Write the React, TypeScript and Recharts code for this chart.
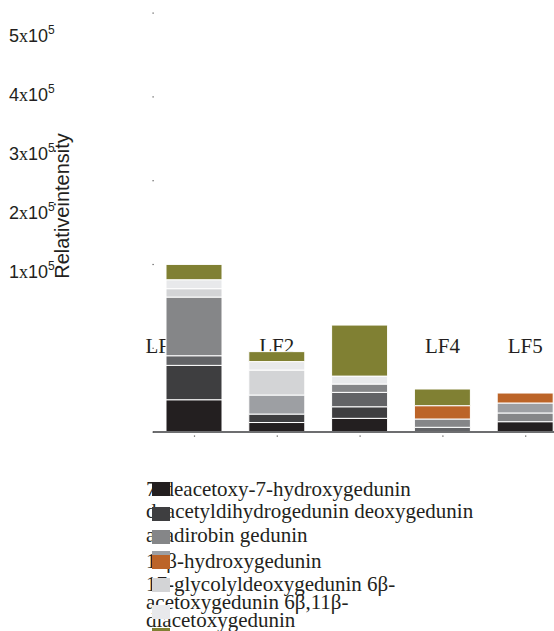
import React from "react";
import { BarChart, Bar, XAxis, YAxis } from "recharts";

const categories = ["LF1", "LF2", "LF3", "LF4", "LF5"];

const compounds = [
  "7-deacetoxy-7-hydroxygedunin",
  "deacetyldihydrogedunin",
  "deoxygedunin",
  "azadirobin",
  "gedunin",
  "11β-hydroxygedunin",
  "17-glycolyldeoxygedunin",
  "6β-acetoxygedunin",
  "6β,11β-diacetoxygedunin",
];

const colors = [
  "#231f20",
  "#3e3e40",
  "#626366",
  "#858688",
  "#9d9fa3",
  "#bc6428",
  "#d3d4d6",
  "#e8e9eb",
  "#808033",
];

// one array per compound, LF1..LF5
const deacetoxyHydroxy = [38500, 11300, 16300, 0, 12300];
const deacetyldihydro = [41000, 10100, 13800, 0, 0];
const deoxy = [11500, 0, 17200, 5600, 0];
const azadirobin = [70000, 0, 9900, 9900, 10400];
const gedunin = [0, 22700, 0, 0, 11900];
const hydroxy11 = [0, 0, 0, 15900, 11900];
const glycolyl = [10000, 29800, 0, 0, 0];
const acetoxy6 = [10700, 10100, 9500, 0, 0];
const diacetoxy = [18300, 11900, 60900, 19900, 0];

const series = [
  deacetoxyHydroxy,
  deacetyldihydro,
  deoxy,
  azadirobin,
  gedunin,
  hydroxy11,
  glycolyl,
  acetoxy6,
  diacetoxy,
];

const yTicks = [0, 100000, 200000, 300000, 400000, 500000];

// legend lines group the names the way the figure flows them
const legendGroups = [[0], [1, 2], [3, 4], [5], [6, 7, 8]];

const data = categories.map((name, i) => {
  const row: Record<string, string | number> = { name };
  series.forEach((s, k) => {
    row["s" + k] = s[i];
  });
  return row;
});

// lowest non-empty segment of each stack; its layer carries the category name
const bottomSeries = categories.map((_, i) => series.findIndex((s) => s[i] > 0));

const ink = "#231f20";

const YTick = (props: any) => {
  const { x, y, payload } = props;
  const m = payload.value / 100000;
  const baseline = 42 + (5 - m) * 59;
  return (
    <g>
      <rect x={x - 0.5} y={y - 0.5} width={1.2} height={1.2} fill="#555" />
      {m > 0 && (
        <text x={9} y={baseline} fontFamily="'Liberation Sans', Arial" fontSize={18} fill={ink}>
          <tspan>{m}</tspan>
          <tspan fontFamily="'Liberation Serif', serif">x</tspan>
          <tspan>10</tspan>
          <tspan dy={-8} fontSize={12}>5</tspan>
        </text>
      )}
    </g>
  );
};

// only the small dots under the axis
const XTick = (props: any) => {
  const { x } = props;
  return <rect x={x - 0.5} y={435.5} width={1.2} height={1.2} fill="#555" />;
};

// category name drawn as the bar background so the stacked segments cover it
const makeCategoryName = (k: number) => (props: any) => {
  const { x, width, payload } = props;
  const ci = categories.indexOf(payload?.name);
  if (ci < 0 || bottomSeries[ci] !== k) return <g key={"bg" + k + "-" + props.index} />;
  const dx = ci === 0 ? -31 : 0;
  return (
    <text
      key={"bg" + k + "-" + ci}
      x={x + width / 2 + dx}
      y={353}
      textAnchor="middle"
      fontFamily="'Liberation Serif', serif"
      fontSize={21}
      fill={ink}
    >
      {categories[ci]}
    </text>
  );
};

const AxisTitle = () => (
  <text
    x={62}
    y={206}
    transform="rotate(-90, 62, 206)"
    textAnchor="middle"
    dominantBaseline="central"
    fontFamily="'Liberation Sans', Arial"
    fontSize={20}
    fill={ink}
  >
    Relativeintensity
  </text>
);

const groupBaselines = [497, 519, 543, 569, 591];
const swatchTops = [482, 507, 530, 530, 551, 555, 578, 605, 628];

const Legend = () => (
  <>
    {legendGroups.map((g, i) => {
      const last = i === legendGroups.length - 1;
      const lh = last ? 18 : 21;
      const top = groupBaselines[i] - (last ? 16.3 : 17.8);
      return (
        <div
          key={i}
          style={{
            position: "absolute",
            left: 146,
            top,
            width: last ? 276 : 420,
            fontFamily: "'Liberation Serif', serif",
            fontSize: 21,
            lineHeight: lh + "px",
            color: ink,
            whiteSpace: last ? "normal" : "nowrap",
          }}
        >
          {g.map((k) => compounds[k]).join(" ")}
        </div>
      );
    })}
    {compounds.map((c, k) => (
      <div
        key={c}
        style={{
          position: "absolute",
          left: 152,
          top: swatchTops[k],
          width: 18,
          height: 14,
          background: colors[k],
        }}
      />
    ))}
  </>
);

export default function App() {
  return (
    <div
      style={{
        position: "absolute",
        left: 0,
        top: 0,
        width: 554,
        height: 631,
        overflow: "hidden",
        background: "#fff",
      }}
    >
      <BarChart
        width={567}
        height={445}
        data={data}
        margin={{ top: 13, right: 0, bottom: 0, left: 0 }}
        barSize={56}
      >
        <XAxis
          dataKey="name"
          height={13}
          axisLine={{ stroke: "#6d6e70", strokeWidth: 2 }}
          tickLine={false}
          tick={<XTick />}
          interval={0}
        />
        <YAxis
          width={153}
          domain={[0, 500000]}
          ticks={yTicks}
          axisLine={false}
          tickLine={false}
          tickSize={0}
          tickMargin={0}
          tick={<YTick />}
          label={<AxisTitle />}
        />
        {series.map((_, k) => (
          <Bar
            key={k}
            dataKey={"s" + k}
            name={compounds[k]}
            stackId="a"
            fill={colors[k]}
            stroke="#fff"
            strokeWidth={1}
            background={makeCategoryName(k)}
            isAnimationActive={false}
          />
        ))}
      </BarChart>
      <Legend />
    </div>
  );
}
